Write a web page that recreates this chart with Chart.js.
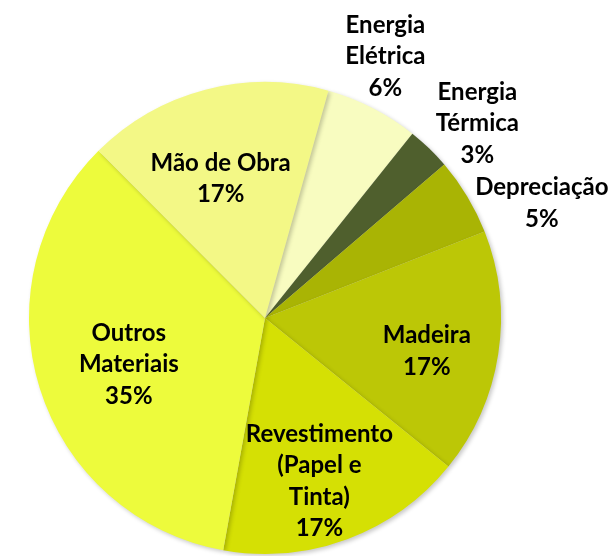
<!DOCTYPE html>
<html>
<head>
<meta charset="utf-8">
<script src="https://cdn.jsdelivr.net/npm/chart.js@4.4.1/dist/chart.umd.min.js"></script>
<style>
  html, body { margin: 0; padding: 0; background: #fff; }
  #wrap { width: 615px; height: 556px; position: relative; }
</style>
</head>
<body>
<div id="wrap"><canvas id="pieChart"></canvas></div>
<script>
// Cost shares (%), clockwise from Energia Elétrica
const categories = [
    ['Energia', 'Elétrica'],
    ['Energia', 'Térmica'],
    ['Depreciação'],
    ['Madeira'],
    ['Revestimento', '(Papel e', 'Tinta)'],
    ['Outros', 'Materiais'],
    ['Mão de Obra']
];
const shares = [6.4, 3.0, 5.3, 16.8, 17.0, 34.7, 16.8];
const sliceColors = ['#F8FCC0', '#4F5F2D', '#A9B404', '#BCC706', '#D5E004', '#EDFB3C', '#F3F886'];

// where each label sits: radius factor and angle shift (deg) from slice middle
const labelPlace = [
    { r: 1.22, da: -2.4 },
    { r: 1.22, da: 3.5 },
    { r: 1.27, da: 8.5 },
    { r: 0.70, da: 2.9 },
    { r: 0.73, da: 2.0 },
    { r: 0.61, da: -1.6 },
    { r: 0.62, da: -3.0 }
];

const total = shares.reduce((a, b) => a + b, 0);

const shadowPlugin = {
    id: 'pieShadow',
    beforeDatasetsDraw(chart) {
        const ctx = chart.ctx;
        ctx.save();
        ctx.shadowColor = 'rgba(0,0,0,0.22)';
        ctx.shadowBlur = 4;
        ctx.shadowOffsetX = 2;
        ctx.shadowOffsetY = 2;
    },
    afterDatasetsDraw(chart) {
        chart.ctx.restore();
    }
};

const labelPlugin = {
    id: 'sliceLabels',
    afterDraw(chart) {
        const ctx = chart.ctx;
        const arcs = chart.getDatasetMeta(0).data;
        ctx.save();
        ctx.font = 'bold 24px Lato';
        ctx.fillStyle = '#000';
        ctx.textAlign = 'center';
        ctx.textBaseline = 'middle';
        const lineH = 31.5;
        arcs.forEach((arc, i) => {
            const p = arc.getProps(['x', 'y', 'startAngle', 'endAngle', 'outerRadius'], true);
            const mid = (p.startAngle + p.endAngle) / 2 + labelPlace[i].da * Math.PI / 180;
            const rr = p.outerRadius * labelPlace[i].r;
            const cx = p.x + rr * Math.cos(mid);
            const cy = p.y + rr * Math.sin(mid);
            const lines = categories[i].concat([Math.round(shares[i] / total * 100) + '%']);
            const top = cy - (lines.length - 1) * lineH / 2;
            lines.forEach((t, k) => ctx.fillText(t, cx, top + k * lineH));
        });
        ctx.restore();
    }
};

const ctx = document.getElementById('pieChart').getContext('2d');
new Chart(ctx, {
    type: 'pie',
    data: {
        labels: categories.map(c => c.join(' ')),
        datasets: [{
            data: shares,
            backgroundColor: sliceColors,
            borderWidth: 0
        }]
    },
    options: {
        responsive: true,
        maintainAspectRatio: false,
        animation: false,
        rotation: 15.6,
        layout: { padding: { left: 29, right: 114, top: 82, bottom: 2 } },
        plugins: {
            legend: { display: false },
            tooltip: { enabled: false }
        }
    },
    plugins: [shadowPlugin, labelPlugin]
});
</script>
</body>
</html>
